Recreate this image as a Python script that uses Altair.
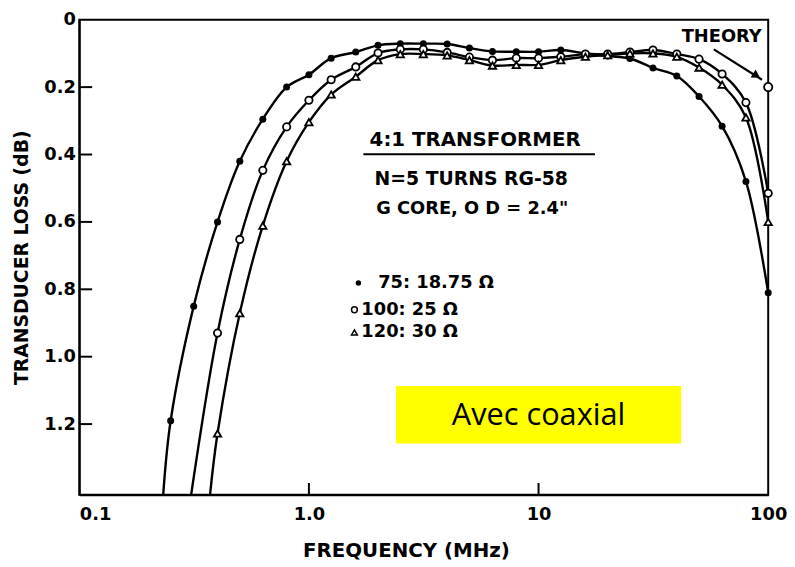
import altair as alt
import pandas as pd

# ---- data ----
freq_all = [0.25, 0.315, 0.4, 0.5, 0.63, 0.8, 1.0, 1.25, 1.6, 2.0, 2.5, 3.15, 4.0,
            5.0, 6.3, 8.0, 10.0, 12.5, 16.0, 20.0, 25.0, 31.5, 40.0, 50.0, 63.0, 80.0, 100.0]
loss_75 = [1.19, 0.85, 0.60, 0.42, 0.295, 0.20, 0.163, 0.114, 0.096, 0.076, 0.071, 0.071, 0.072,
           0.084, 0.094, 0.095, 0.095, 0.09, 0.100, 0.108, 0.115, 0.143, 0.167, 0.228, 0.316, 0.48, 0.81]
freq_hi = [0.4, 0.5, 0.63, 0.8, 1.0, 1.25, 1.6, 2.0, 2.5, 3.15, 4.0, 5.0, 6.3, 8.0, 10.0,
           12.5, 16.0, 20.0, 25.0, 31.5, 40.0, 50.0, 63.0, 80.0, 100.0]
loss_100 = [0.93, 0.652, 0.447, 0.318, 0.239, 0.178, 0.14, 0.099, 0.088, 0.088, 0.097, 0.111,
            0.12, 0.114, 0.114, 0.11, 0.102, 0.102, 0.096, 0.09, 0.102, 0.117, 0.161, 0.246, 0.515]
loss_120 = [1.228, 0.871, 0.611, 0.42, 0.304, 0.222, 0.169, 0.12, 0.102, 0.102, 0.106, 0.12,
            0.136, 0.134, 0.134, 0.12, 0.11, 0.105, 0.1, 0.1, 0.11, 0.142, 0.193, 0.29, 0.6]
# frequency where each drawn curve leaves the bottom of the frame
tail_freq_75 = [0.232]
tail_freq_100 = [0.307]
tail_freq_120 = [0.371]
theory_freq = [100.0]
theory_loss = [0.2]
arrow_freq = [58.0, 94.0]
arrow_loss = [0.088, 0.178]
arrowhead_freq = [89.0]
arrowhead_loss = [0.166]

y_ticks = [0, 0.2, 0.4, 0.6, 0.8, 1.0, 1.2]
x_ticks = [0.1, 1.0, 10.0, 100.0]
x_inner_ticks = [1.0, 10.0]
Y_MAX = 1.41

FONT = "DejaVu Sans"
W, H = 696, 480


def frame(series, fr, ls):
    return pd.DataFrame({"series": series, "freq": fr, "loss": ls})


p75 = frame("75", freq_all, loss_75)
p100 = frame("100", freq_hi, loss_100)
p120 = frame("120", freq_hi, loss_120)
lines_df = pd.concat([
    frame("75", tail_freq_75, [Y_MAX]), p75,
    frame("100", tail_freq_100, [Y_MAX]), p100,
    frame("120", tail_freq_120, [Y_MAX]), p120,
])

xs = alt.Scale(type="log", domain=[0.1, 100], nice=False)
ys = alt.Scale(domain=[0, Y_MAX], reverse=True, nice=False, zero=False)

x_axis = alt.Axis(
    values=x_ticks,
    labelExpr="datum.value < 0.5 ? '0.1' : datum.value < 5 ? '1.0' : datum.value < 50 ? '10' : '100'",
    labelAlign={"condition": {"test": "datum.value < 0.5", "value": "left"}, "value": "center"},
    ticks=False, grid=False, domainColor="black", domainWidth=2,
    labelFont=FONT, labelFontSize=18, labelFontWeight="bold", labelColor="black", labelPadding=11,
    title="FREQUENCY (MHz)", titleFont=FONT, titleFontSize=20, titleFontWeight="bold",
    titleColor="black", titleX=330, titleY=56, titleAlign="center", titleBaseline="middle",
)
y_axis = alt.Axis(
    values=y_ticks,
    labelExpr="datum.value == 0 ? '0' : format(datum.value, '.1f')",
    ticks=False, grid=False, domainColor="black", domainWidth=2,
    labelFont=FONT, labelFontSize=18, labelFontWeight="bold", labelColor="black", labelPadding=4,
    title="TRANSDUCER LOSS (dB)", titleFont=FONT, titleFontSize=19, titleFontWeight="bold",
    titleColor="black", titleX=-58, titleY=240, titleAngle=270, titleAlign="center",
    titleBaseline="middle",
)


def X():
    return alt.X("freq:Q", scale=xs, axis=x_axis)


def Y():
    return alt.Y("loss:Q", scale=ys, axis=y_axis)


lines = alt.Chart(lines_df).mark_line(
    interpolate="catmull-rom", color="black", strokeWidth=2.4, clip=True
).encode(x=X(), y=Y(), detail="series:N", order="freq:Q")

m75 = alt.Chart(p75).mark_point(shape="circle", filled=True, color="black", size=50, opacity=1).encode(x=X(), y=Y())
m100 = alt.Chart(p100).mark_point(shape="circle", filled=True, fill="white", stroke="black",
                                   strokeWidth=1.8, size=55, opacity=1).encode(x=X(), y=Y())
m120 = alt.Chart(p120).mark_point(shape="triangle-up", filled=True, fill="white", stroke="black",
                                   strokeWidth=1.8, size=55, opacity=1).encode(x=X(), y=Y())

theory_df = pd.DataFrame({"freq": theory_freq, "loss": theory_loss})
theory_pt = alt.Chart(theory_df).mark_point(shape="circle", filled=True, fill="white", stroke="black",
                                            strokeWidth=1.8, size=70, opacity=1).encode(x=X(), y=Y())
arrow_df = pd.DataFrame({"freq": arrow_freq, "loss": arrow_loss})
arrow = alt.Chart(arrow_df).mark_line(color="black", strokeWidth=2.2).encode(x=X(), y=Y())
head_df = pd.DataFrame({"freq": arrowhead_freq, "loss": arrowhead_loss})
head = alt.Chart(head_df).mark_point(shape="triangle-up", filled=True, color="black", size=90,
                                     angle=122, opacity=1).encode(x=X(), y=Y())

# inward ticks
yt_df = pd.DataFrame({"loss": y_ticks[1:]})
ytk = alt.Chart(yt_df).mark_rule(color="black", strokeWidth=2).encode(
    y=Y(), x=alt.value(0), x2=alt.value(13))
xt_df = pd.DataFrame({"freq": x_inner_ticks})
xtk = alt.Chart(xt_df).mark_rule(color="black", strokeWidth=2).encode(
    x=X(), y=alt.value(H), y2=alt.value(H - 12))


def txt(s, x, y, size=19, align="center", font=FONT, weight="bold"):
    return alt.Chart(pd.DataFrame({"t": [s]})).mark_text(
        font=font, fontSize=size, fontWeight=weight, align=align, baseline="middle", color="black"
    ).encode(x=alt.value(x), y=alt.value(y), text="t:N")


title1 = txt("4:1 TRANSFORMER", 400, 122, 20)
uline = alt.Chart(pd.DataFrame({"a": [0]})).mark_rule(color="black", strokeWidth=2).encode(
    x=alt.value(287), x2=alt.value(521), y=alt.value(136))
title2 = txt("N=5 TURNS RG-58", 396, 161, 19)
title3 = txt('G CORE, O D = 2.4"', 397, 191, 18)
theory_lbl = txt("THEORY", 649, 18, 18)

leg1 = txt("75: 18.75 Ω", 302, 266, 18, "left")
leg2 = txt("100: 25 Ω", 285, 293, 18, "left")
leg3 = txt("120: 30 Ω", 285, 316, 18, "left")
one = pd.DataFrame({"a": [0]})
s1 = alt.Chart(one).mark_point(shape="circle", filled=True, color="black", size=30, opacity=1).encode(
    x=alt.value(282), y=alt.value(266))
s2 = alt.Chart(one).mark_point(shape="circle", filled=True, fill="white", stroke="black",
                                strokeWidth=1.5, size=35, opacity=1).encode(x=alt.value(278), y=alt.value(293))
s3 = alt.Chart(one).mark_point(shape="triangle-up", filled=True, fill="white", stroke="black",
                                strokeWidth=1.5, size=35, opacity=1).encode(x=alt.value(278), y=alt.value(316))

box = alt.Chart(one).mark_rect(color="#FFFF00").encode(
    x=alt.value(320), x2=alt.value(608), y=alt.value(370), y2=alt.value(428))
box_txt = txt("Avec coaxial", 464, 400, 31, font="Open Sans", weight="normal")

chart = alt.layer(
    lines, box, m75, m100, m120, theory_pt, arrow, head, ytk, xtk,
    title1, uline, title2, title3, theory_lbl, leg1, leg2, leg3, s1, s2, s3, box_txt,
).properties(
    width=W, height=H,
    background="white",
    autosize=alt.AutoSizeParams(type="none"),
    padding={"left": 72, "top": 9, "right": 19, "bottom": 66},
).configure_view(stroke="black", strokeWidth=2)

chart.save("out.html", embed_options={"renderer": "svg", "actions": False})
